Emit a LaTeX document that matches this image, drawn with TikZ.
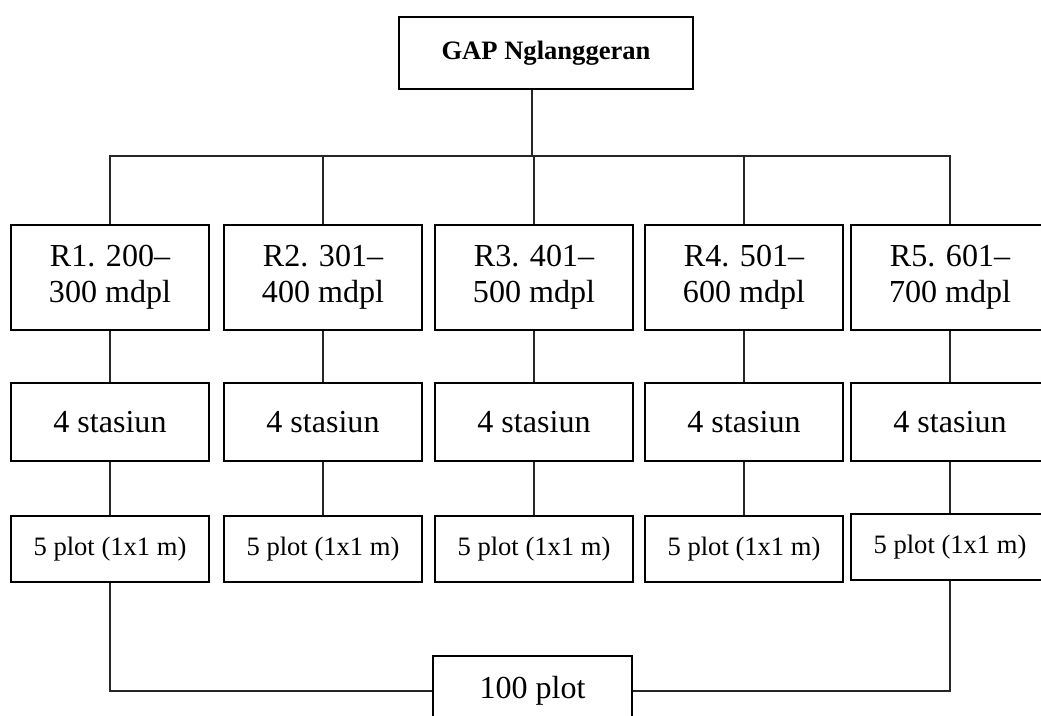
\documentclass[tikz,border=0pt]{standalone}
\usepackage{fontspec}
\setmainfont{Liberation Serif}
\usepackage{tikz}
\usetikzlibrary{positioning, calc}

\tikzset{
  box/.style={draw=black, line width=1.3pt, fill=white, inner sep=2pt, align=center,
              font=\fontsize{22.8}{25.6}\selectfont},
  rangebox/.style={box, minimum width=4.95cm, minimum height=2.62cm},
  stationbox/.style={box, minimum width=4.95cm, minimum height=1.95cm},
  plotbox/.style={box, minimum width=4.95cm, minimum height=1.65cm,
              font=\fontsize{18.9}{22}\selectfont},
  link/.style={draw=black!85, line width=0.75pt}
}

\begin{document}
\begin{tikzpicture}[x=0.025cm, y=-0.025cm]
  \useasboundingbox (0,0) rectangle (1041,716);

  % top
  \node[box, minimum width=7.35cm, minimum height=1.8cm, font=\fontsize{18.9}{22}\selectfont\bfseries]
    (gap) at (546,53) {GAP Nglanggeran};
  \coordinate (bus) at (532,156);

  % altitude ranges
  \node[rangebox] (r1) at (110,277.5) {R1. 200--\\300 mdpl};
  \node[rangebox] (r2) at (323,277.5) {R2. 301--\\400 mdpl};
  \node[rangebox] (r3) at (534,277.5) {R3. 401--\\500 mdpl};
  \node[rangebox] (r4) at (744,277.5) {R4. 501--\\600 mdpl};
  \node[rangebox] (r5) at (950,277.5) {R5. 601--\\700 mdpl};

  % stations
  \node[stationbox] (s1) at (110,422) {4 stasiun};
  \node[stationbox] (s2) at (323,422) {4 stasiun};
  \node[stationbox] (s3) at (534,422) {4 stasiun};
  \node[stationbox] (s4) at (744,422) {4 stasiun};
  \node[stationbox] (s5) at (950,422) {4 stasiun};

  % plots
  \node[plotbox] (p1) at (110,549) {5 plot (1x1 m)};
  \node[plotbox] (p2) at (323,549) {5 plot (1x1 m)};
  \node[plotbox] (p3) at (534,549) {5 plot (1x1 m)};
  \node[plotbox] (p4) at (744,549) {5 plot (1x1 m)};
  \node[plotbox] (p5) at (950,547) {5 plot (1x1 m)};

  % total
  \node[box, minimum width=4.98cm, minimum height=1.75cm] (total) at (532.5,691) {100 plot};

  % connectors
  \draw[link] (gap.south -| bus) -- (bus);
  \draw[link] (r1.north) -- (r1.north |- bus) -- (r5.north |- bus) -- (r5.north);
  \draw[link] (r2.north) -- (r2.north |- bus);
  \draw[link] (r3.north) -- (r3.north |- bus);
  \draw[link] (r4.north) -- (r4.north |- bus);

  \draw[link] (r1.south) -- (s1.north);
  \draw[link] (r2.south) -- (s2.north);
  \draw[link] (r3.south) -- (s3.north);
  \draw[link] (r4.south) -- (s4.north);
  \draw[link] (r5.south) -- (s5.north);

  \draw[link] (s1.south) -- (p1.north);
  \draw[link] (s2.south) -- (p2.north);
  \draw[link] (s3.south) -- (p3.north);
  \draw[link] (s4.south) -- (p4.north);
  \draw[link] (s5.south) -- (p5.north);

  \draw[link] (p1.south) |- (total.west);
  \draw[link] (p5.south) |- (total.east);
\end{tikzpicture}
\end{document}
